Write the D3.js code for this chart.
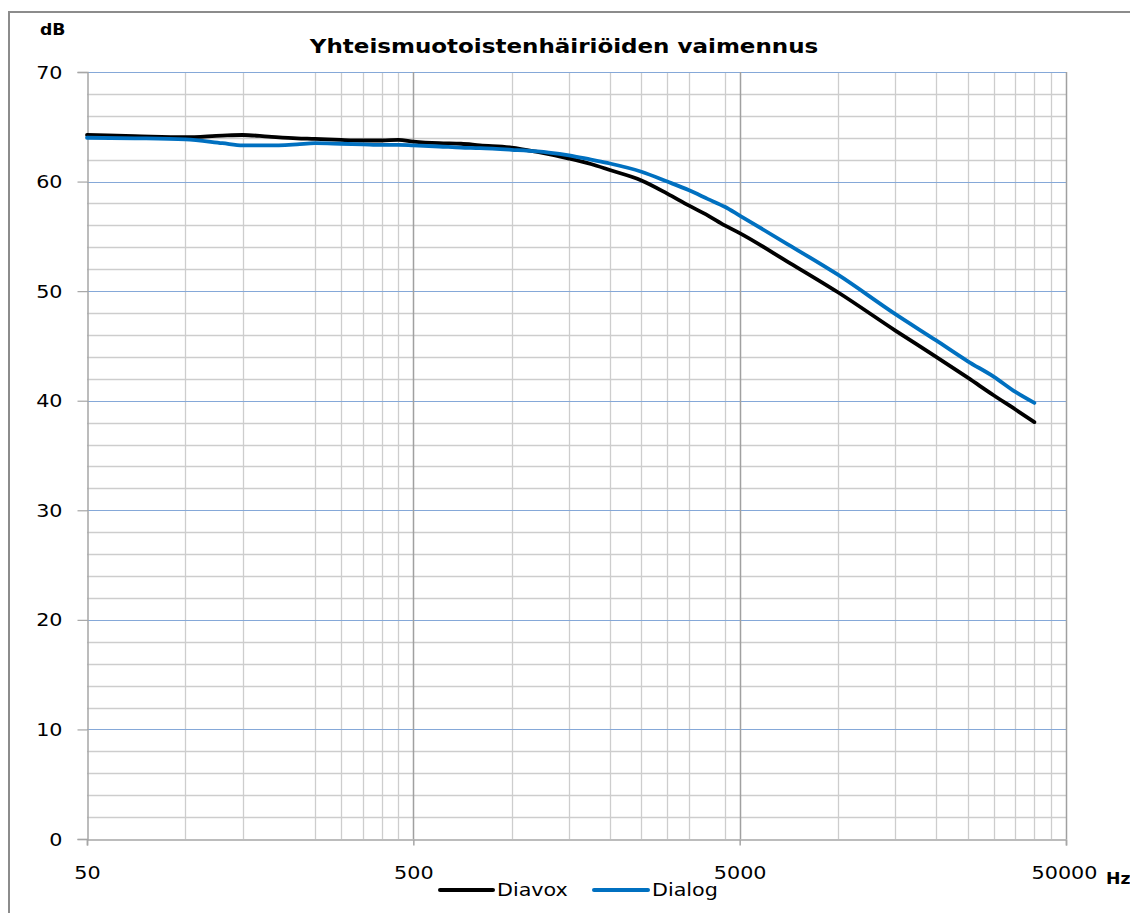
<!DOCTYPE html>
<html>
<head>
<meta charset="utf-8">
<script src="https://cdn.jsdelivr.net/npm/d3@7/dist/d3.min.js"></script>
<style>
  html, body { margin: 0; padding: 0; background: #fff; }
  svg { display: block; }
  text { font-family: "DejaVu Sans", sans-serif; fill: #000; }
</style>
</head>
<body>
<svg id="chart" width="1130" height="913"></svg>
<script>
// ---------- data ----------
const title = "Yhteismuotoistenhäiriöiden vaimennus";
const yUnit = "dB";
const xUnit = "Hz";
const seriesNames = ["Diavox", "Dialog"];
const seriesColors = ["#000000", "#0070c0"];

const diavoxFreq = [50, 70, 100, 130, 150, 180, 220, 250, 300, 350, 400, 450, 500, 600, 700, 800, 1000, 1200, 1500, 1750, 2000, 2500, 3000, 3500, 4000, 4500, 5000, 7000, 10000, 15000, 20000, 25000, 30000, 35000, 40000];
const diavoxDb   = [64.25, 64.15, 64.05, 64.2, 64.25, 64.1, 63.95, 63.9, 63.8, 63.75, 63.75, 63.8, 63.65, 63.5, 63.45, 63.3, 63.1, 62.7, 62.1, 61.6, 61.05, 60.1, 58.9, 57.8, 56.9, 56.0, 55.3, 52.7, 49.9, 46.4, 44.0, 42.1, 40.5, 39.2, 38.05];

const dialogFreq = [50, 70, 100, 130, 150, 180, 220, 250, 300, 350, 400, 450, 500, 600, 700, 800, 1000, 1200, 1300, 1500, 1750, 2000, 2500, 3000, 3500, 4000, 4500, 5000, 7000, 10000, 15000, 20000, 25000, 30000, 35000, 40000];
const dialogDb   = [64.0, 63.95, 63.85, 63.5, 63.3, 63.3, 63.4, 63.5, 63.45, 63.4, 63.35, 63.35, 63.3, 63.2, 63.1, 63.05, 62.9, 62.75, 62.65, 62.4, 62.0, 61.65, 60.9, 60.0, 59.2, 58.4, 57.7, 56.9, 54.3, 51.5, 47.9, 45.5, 43.6, 42.2, 40.8, 39.8];

const xMajorTicks = [50, 500, 5000, 50000];
const xMinorGrid = [100, 150, 250, 300, 350, 400, 450,
                    1000, 1500, 2000, 2500, 3000, 3500, 4500,
                    10000, 15000, 20000, 25000, 30000, 35000, 40000, 45000];
const yMajorTicks = [0, 10, 20, 30, 40, 50, 60, 70];
const yMinorGrid = [2, 4, 6, 8, 12, 14, 16, 18, 22, 24, 26, 28, 32, 34, 36, 38, 42, 44, 46, 48, 52, 54, 56, 58, 62, 64, 66, 68];

// ---------- layout ----------
const svg = d3.select("#chart");
const L = 87, R = 1066, T = 72, B = 839;
const SX = 1.15; // horizontal text stretch seen in the reference

const x = d3.scaleLog().domain([50, 50000]).range([L, R]);
const y = d3.scaleLinear().domain([0, 70]).range([B, T]);

// outer frame
svg.append("rect")
  .attr("x", 9).attr("y", 12).attr("width", 1140).attr("height", 920)
  .attr("fill", "none").attr("stroke", "#8c8c8c").attr("stroke-width", 2);

const grid = svg.append("g");
grid.selectAll(".hmin").data(yMinorGrid).join("line")
  .attr("x1", L).attr("x2", R)
  .attr("y1", d => Math.round(y(d)) + 0.5).attr("y2", d => Math.round(y(d)) + 0.5)
  .attr("stroke", "#cdcdcd").attr("stroke-width", 1.3);
grid.selectAll(".vmin").data(xMinorGrid).join("line")
  .attr("x1", d => Math.round(x(d)) + 0.5).attr("x2", d => Math.round(x(d)) + 0.5)
  .attr("y1", T).attr("y2", B)
  .attr("stroke", "#cdcdcd").attr("stroke-width", 1.3);
grid.selectAll(".hmaj").data(yMajorTicks.filter(d => d > 0)).join("line")
  .attr("x1", L).attr("x2", R)
  .attr("y1", d => Math.round(y(d)) + 0.5).attr("y2", d => Math.round(y(d)) + 0.5)
  .attr("stroke", "#85a8d8").attr("stroke-width", 1.2);
grid.selectAll(".vmaj").data(xMajorTicks.slice(1, -1)).join("line")
  .attr("x1", d => Math.round(x(d)) + 0.5).attr("x2", d => Math.round(x(d)) + 0.5)
  .attr("y1", T).attr("y2", B)
  .attr("stroke", "#a0a0a0").attr("stroke-width", 1.5);
grid.append("line")
  .attr("x1", R + 0.5).attr("x2", R + 0.5).attr("y1", T).attr("y2", B)
  .attr("stroke", "#a0a0a0").attr("stroke-width", 1.5);

// axes
const yAxis = svg.append("g")
  .attr("transform", `translate(${L + 0.5},0)`)
  .call(d3.axisLeft(y).tickValues(yMajorTicks).tickSize(10).tickPadding(14).tickFormat(d3.format("d")));
yAxis.select(".domain").attr("stroke", "#a6a6a6").attr("stroke-width", 1.5);
yAxis.selectAll(".tick line").attr("stroke", "#a6a6a6").attr("stroke-width", 1.2);
yAxis.selectAll(".tick text")
  .attr("font-size", 18).attr("font-family", "DejaVu Sans").attr("fill", "#000")
  .attr("x", null).attr("dy", null)
  .attr("dominant-baseline", "central")
  .attr("transform", `translate(-25,0) scale(${SX},1)`);

const xAxis = svg.append("g")
  .attr("transform", `translate(0,${B + 0.5})`)
  .call(d3.axisBottom(x).tickValues(xMajorTicks).tickSize(6).tickPadding(22).tickFormat(d3.format("d")));
xAxis.select(".domain").attr("stroke", "#a6a6a6").attr("stroke-width", 1.5);
xAxis.selectAll(".tick line").attr("stroke", "#a6a6a6").attr("stroke-width", 1.5);
xAxis.selectAll(".tick text")
  .attr("font-size", 18).attr("font-family", "DejaVu Sans").attr("fill", "#000")
  .attr("y", null).attr("dy", null)
  .attr("transform", `translate(0,39) scale(${SX},1)`);
xAxis.selectAll(".tick").filter(d => d === 50000).select("text")
  .attr("transform", `translate(-2,39) scale(${SX},1)`);

// lines
const line = d3.line().x(d => x(d[0])).y(d => y(d[1])).curve(d3.curveMonotoneX);
const series = [
  diavoxFreq.map((f, i) => [f, diavoxDb[i]]),
  dialogFreq.map((f, i) => [f, dialogDb[i]])
];
[0, 1].forEach(i => {
  svg.append("path")
    .datum(series[i])
    .attr("d", line)
    .attr("fill", "none")
    .attr("stroke", seriesColors[i])
    .attr("stroke-width", 3.8)
    .attr("stroke-linejoin", "round")
    .attr("stroke-linecap", "round");
});

// title and units
function stretchedText(txt, tx, ty, size, weight, anchor) {
  return svg.append("text")
    .attr("transform", `translate(${tx},${ty}) scale(${SX},1)`)
    .attr("font-size", size)
    .attr("font-weight", weight)
    .attr("text-anchor", anchor)
    .text(txt);
}
stretchedText(title, 564, 53, 20, "bold", "middle");
stretchedText(yUnit, 40, 35, 15, "bold", "start");
stretchedText(xUnit, 1106, 884, 15, "bold", "start");

// legend
const legendItems = [
  { name: seriesNames[0], color: seriesColors[0], x1: 440, x2: 493, tx: 497 },
  { name: seriesNames[1], color: seriesColors[1], x1: 594, x2: 648, tx: 652 }
];
legendItems.forEach(it => {
  svg.append("line")
    .attr("x1", it.x1).attr("x2", it.x2).attr("y1", 890).attr("y2", 890)
    .attr("stroke", it.color).attr("stroke-width", 4).attr("stroke-linecap", "round");
  stretchedText(it.name, it.tx, 896, 18, "normal", "start");
});
</script>
</body>
</html>
